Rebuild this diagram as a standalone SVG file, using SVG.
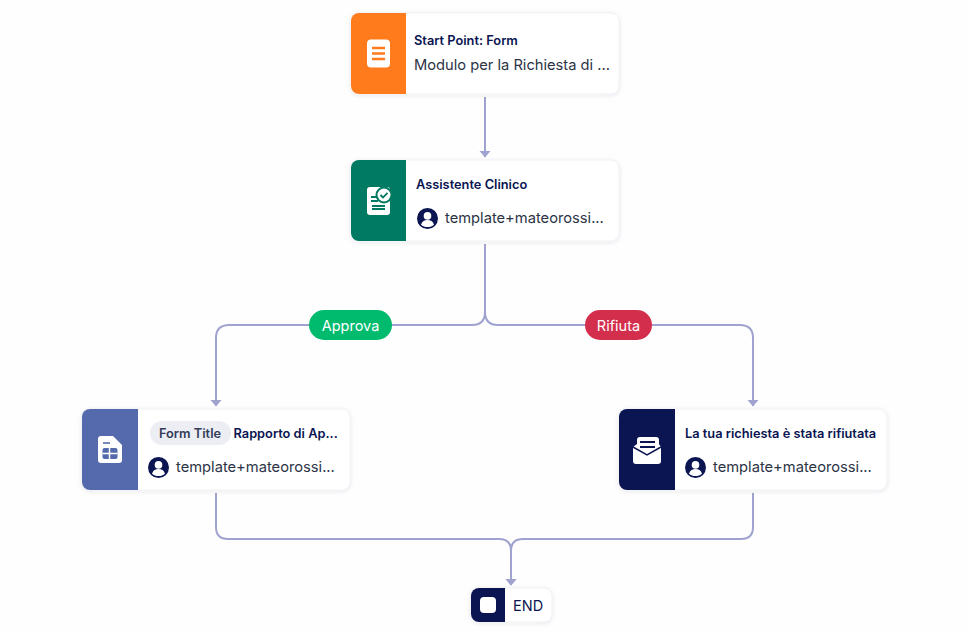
<svg xmlns="http://www.w3.org/2000/svg" width="968" height="633" viewBox="0 0 968 633">
<style>
text{font-family:"Inter","Noto Sans","Liberation Sans",sans-serif}
.card{fill:#fff;stroke:#f0f1f6;stroke-width:1;filter:url(#sh)}
.t{font-size:12.800px;font-weight:600;fill:#0a1551}
.s{font-size:14.700px;fill:#2c3345}
.c{fill:none;stroke:#a0a3cf;stroke-width:2}
.w{fill:#fff}
</style>
<defs>
<filter id="sh" x="-10%" y="-20%" width="120%" height="140%"><feDropShadow dx="0" dy="1" stdDeviation="2" flood-color="#2c3345" flood-opacity="0.10"/></filter>
<marker id="a" markerWidth="8" markerHeight="12" refX="7" refY="6" orient="auto" markerUnits="userSpaceOnUse" viewBox="0 0 8 12"><path d="M1 0.500V11.500L7.500 6Z" fill="#a0a3cf"/></marker>
<g id="user"><circle r="10.500" fill="#0a1551"/><circle cy="-2.600" r="3.800" fill="#fff"/><path d="M-6.500 6.200C-5.500 2.800-3 1.600 0 1.600S5.500 2.800 6.500 6.200C4.800 7.800 2.500 8.600 0 8.600S-4.800 7.800-6.500 6.200Z" fill="#fff"/></g>
</defs>
<rect width="968" height="633" fill="#fefefe"/>
<g id="connectors">
<path class="c" d="M485 97V157" marker-end="url(#a)"/>
<path class="c" d="M485 244V312Q485 325 472 325H229Q216 325 216 338V406" marker-end="url(#a)"/>
<path class="c" d="M485 244V312Q485 325 498 325H740Q753 325 753 338V406" marker-end="url(#a)"/>
<path class="c" d="M216 493V527Q216 539 228 539H499Q511 539 511 551V585" marker-end="url(#a)"/>
<path class="c" d="M753 493V527Q753 539 741 539H523Q511 539 511 551V585" marker-end="url(#a)"/>
</g>
<g id="label-approva"><rect x="309" y="310" width="83" height="30" rx="15" fill="#00bb6e"/><text x="350.500" y="331" text-anchor="middle" font-size="14.500" fill="#fff">Approva</text></g>
<g id="label-rifiuta"><rect x="585" y="310" width="67" height="30" rx="15" fill="#d32f4c"/><text x="618.500" y="331" text-anchor="middle" font-size="14.500" fill="#fff">Rifiuta</text></g>
<g id="node-start">
<rect class="card" x="351" y="13" width="268" height="81" rx="8"/>
<path d="M359 13H406V94H359A8 8 0 0 1 351 86V21A8 8 0 0 1 359 13Z" fill="#ff7b1c"/>
<rect class="w" x="367" y="39.500" width="23" height="28" rx="4"/>
<path d="M372 48H385M372 53.500H385M372 59H385" stroke="#ff7b1c" stroke-width="2.600" fill="none"/>
<text class="t" x="414" y="45">Start Point: Form</text>
<text class="s" x="414" y="70">Modulo per la Richiesta di ...</text>
</g>
<g id="node-assistente">
<rect class="card" x="351" y="160" width="268" height="81" rx="8"/>
<path d="M359 160H406V241H359A8 8 0 0 1 351 233V168A8 8 0 0 1 359 160Z" fill="#007a62"/>
<rect class="w" x="367" y="187" width="23" height="28" rx="3"/>
<circle cx="384" cy="195" r="8.500" fill="#007a62"/>
<circle cx="384" cy="195" r="6.500" fill="#fff"/>
<path d="M380.500 195L383 197.500L387.500 192.800" stroke="#007a62" stroke-width="1.800" fill="none"/>
<path d="M371 197H376M371 201H378M372 206H385M372 209H385" stroke="#007a62" stroke-width="2" fill="none"/>
<text class="t" x="416" y="189">Assistente Clinico</text>
<use href="#user" x="427.500" y="218.500"/>
<text class="s" x="445" y="223">template+mateorossi...</text>
</g>
<g id="node-form">
<rect class="card" x="82" y="409" width="268" height="81" rx="8"/>
<path d="M90 409H138V490H90A8 8 0 0 1 82 482V417A8 8 0 0 1 90 409Z" fill="#556aad"/>
<path class="w" d="M101 436H113L122 445V460Q122 463 119 463H101Q98 463 98 460V439Q98 436 101 436Z"/>
<path d="M103 443H110" stroke="#556aad" stroke-width="1.600"/>
<rect x="102.500" y="448" width="15" height="11" rx="2" fill="#556aad"/>
<path d="M102.500 453.500H117.500M109.500 448V459" stroke="#fff" stroke-width="1.500"/>
<rect x="150" y="421" width="81" height="24" rx="12" fill="#eceef4"/>
<text x="190" y="438" text-anchor="middle" font-size="12.800" font-weight="600" fill="#343c5a">Form Title</text>
<text class="t" x="233.500" y="438">Rapporto di Ap...</text>
<use href="#user" x="158.500" y="467.500"/>
<text class="s" x="176" y="472">template+mateorossi...</text>
</g>
<g id="node-email">
<rect class="card" x="619" y="409" width="268" height="81" rx="8"/>
<path d="M627 409H675V490H627A8 8 0 0 1 619 482V417A8 8 0 0 1 627 409Z" fill="#0a1551"/>
<path class="w" d="M633 447L637 444V440Q637 437 640 437H656Q659 437 659 440V444L661 447V461Q661 464 658 464H636Q633 464 633 461Z"/>
<path d="M633 447L647 455L661 447" stroke="#0a1551" stroke-width="1.500" fill="none"/>
<path d="M640 442H655M640 447H655" stroke="#0a1551" stroke-width="2.200"/>
<text class="t" x="685" y="438">La tua richiesta è stata rifiutata</text>
<use href="#user" x="695.500" y="467.500"/>
<text class="s" x="713" y="472">template+mateorossi...</text>
</g>
<g id="node-end">
<rect class="card" x="471" y="588" width="81" height="34" rx="8"/>
<path d="M479 588H505V622H479A8 8 0 0 1 471 614V596A8 8 0 0 1 479 588Z" fill="#0a1551"/>
<rect class="w" x="480" y="597" width="16" height="16" rx="4"/>
<text x="513" y="611" font-size="14.500" fill="#0a1551">END</text>
</g>
</svg>
